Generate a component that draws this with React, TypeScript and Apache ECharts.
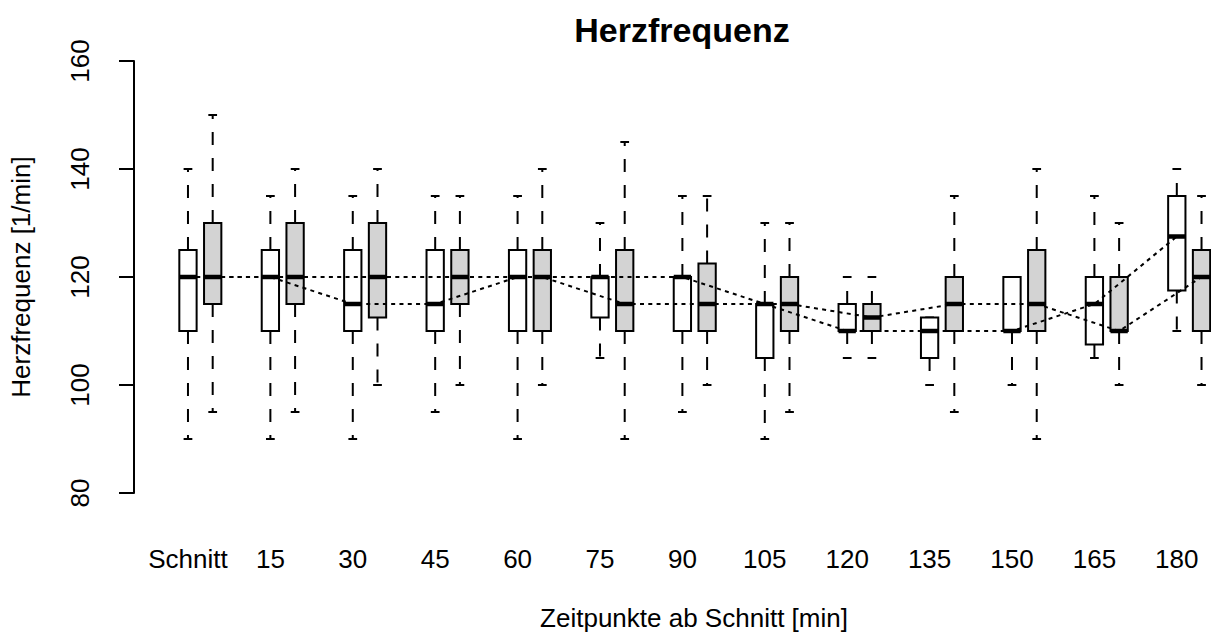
import React, { useEffect, useRef } from "react";
import * as echarts from "echarts";

// ---- data ----
const categories = ["Schnitt", "15", "30", "45", "60", "75", "90", "105", "120", "135", "150", "165", "180"];

// [min, q1, median, q3, max] per time point, first group (white boxes)
const whiteStats: number[][] = [
  [90, 110, 120, 125, 140],
  [90, 110, 120, 125, 135],
  [90, 110, 115, 125, 135],
  [95, 110, 115, 125, 135],
  [90, 110, 120, 125, 135],
  [105, 112.5, 120, 120, 130],
  [95, 110, 120, 120, 135],
  [90, 105, 115, 115, 130],
  [105, 110, 110, 115, 120],
  [100, 105, 110, 112.5, 112.5],
  [100, 110, 110, 120, 120],
  [105, 107.5, 115, 120, 135],
  [110, 117.5, 127.5, 135, 140],
];

// [min, q1, median, q3, max] per time point, second group (grey boxes)
const grayStats: number[][] = [
  [95, 115, 120, 130, 150],
  [95, 115, 120, 130, 140],
  [100, 112.5, 120, 130, 140],
  [100, 115, 120, 125, 135],
  [100, 110, 120, 125, 140],
  [90, 110, 115, 125, 145],
  [100, 110, 115, 122.5, 135],
  [95, 110, 115, 120, 130],
  [105, 110, 112.5, 115, 120],
  [95, 110, 115, 120, 135],
  [90, 110, 115, 125, 140],
  [100, 110, 110, 120, 130],
  [100, 110, 120, 125, 135],
];

const yMin = 80;
const yMax = 160;
const yStep = 20;

// ---- layout constants ----
const GRAY_OFFSET = 0.3;
const BOX_HALF = 0.105;
const CAP_HALF = 0.053;
const X_MIN = 0.345;
const X_MAX = 13.415;
const FONT = "'Liberation Sans', Arial, Helvetica, sans-serif";

function boxRenderer(fill: string) {
  return (_params: any, api: any) => {
    const x = api.value(0);
    const lo = api.value(1);
    const q1 = api.value(2);
    const med = api.value(3);
    const q3 = api.value(4);
    const hi = api.value(5);
    const p = (dx: number, v: number) => api.coord([x + dx, v]);
    const dashStyle = { stroke: "#000", lineWidth: 2, lineDash: [13, 13], fill: null };
    const solid = { stroke: "#000", lineWidth: 2, fill: null };
    const children: any[] = [];
    const seg = (a: number[], b: number[], style: any) =>
      children.push({ type: "line", shape: { x1: a[0], y1: a[1], x2: b[0], y2: b[1] }, style });
    if (hi > q3) seg(p(0, q3), p(0, hi), dashStyle);
    if (lo < q1) seg(p(0, q1), p(0, lo), dashStyle);
    seg(p(-CAP_HALF, hi), p(CAP_HALF, hi), solid);
    seg(p(-CAP_HALF, lo), p(CAP_HALF, lo), solid);
    const tl = p(-BOX_HALF, q3);
    const br = p(BOX_HALF, q1);
    children.push({
      type: "rect",
      shape: { x: tl[0], y: tl[1], width: br[0] - tl[0], height: br[1] - tl[1] },
      style: { fill, stroke: "#000", lineWidth: 2 },
    });
    seg(p(-BOX_HALF, med), p(BOX_HALF, med), { stroke: "#000", lineWidth: 4.5, fill: null });
    return { type: "group", children };
  };
}

export default function App() {
  const ref = useRef<HTMLDivElement>(null);

  useEffect(() => {
    if (!ref.current) return;
    const chart = echarts.init(ref.current, undefined, { renderer: "svg" });
    const whiteData = whiteStats.map((s, i) => [i + 1, ...s]);
    const grayData = grayStats.map((s, i) => [i + 1 + GRAY_OFFSET, ...s]);
    const whiteMed = whiteStats.map((s, i) => [i + 1, s[2]]);
    const grayMed = grayStats.map((s, i) => [i + 1 + GRAY_OFFSET, s[2]]);

    chart.setOption({
      animation: false,
      backgroundColor: "#fff",
      title: [
        {
          text: "Herzfrequenz",
          left: 677,
          top: 8,
          textAlign: "center",
          textStyle: { fontFamily: FONT, fontSize: 34, fontWeight: "bold", color: "#000" },
        },
        {
          text: "Zeitpunkte ab Schnitt [min]",
          left: 689,
          top: 600,
          textAlign: "center",
          textStyle: { fontFamily: FONT, fontSize: 26, fontWeight: "normal", color: "#000" },
        },
      ],
      grid: { left: 134, right: 0, top: 61, bottom: 140, containLabel: false },
      xAxis: {
        type: "value",
        min: X_MIN,
        max: X_MAX,
        axisLine: { show: false },
        axisTick: { show: false },
        splitLine: { show: false },
        axisLabel: {
          customValues: categories.map((_, i) => i + 1),
          formatter: (v: number) => categories[Math.round(v) - 1] ?? "",
          margin: 53,
          fontFamily: FONT,
          fontSize: 26,
          color: "#000",
        },
      },
      yAxis: {
        type: "value",
        min: yMin,
        max: yMax,
        interval: yStep,
        name: "Herzfrequenz [1/min]",
        nameLocation: "middle",
        nameGap: 100,
        nameTextStyle: { fontFamily: FONT, fontSize: 26, color: "#000" },
        axisLine: { show: true, lineStyle: { color: "#000", width: 2 } },
        axisTick: { show: true, length: 15, lineStyle: { color: "#000", width: 2 } },
        splitLine: { show: false },
        axisLabel: { rotate: 90, margin: 41, fontFamily: FONT, fontSize: 26, color: "#000" },
      },
      series: [
        {
          type: "custom",
          name: "white",
          data: whiteData,
          encode: { x: 0, y: [1, 2, 3, 4, 5] },
          renderItem: boxRenderer("#ffffff"),
          z: 2,
          silent: true,
        },
        {
          type: "custom",
          name: "gray",
          data: grayData,
          encode: { x: 0, y: [1, 2, 3, 4, 5] },
          renderItem: boxRenderer("#d3d3d3"),
          z: 2,
          silent: true,
        },
        {
          type: "line",
          data: whiteMed,
          symbol: "none",
          lineStyle: { color: "#000", width: 2, type: [4, 4.3] },
          z: 4,
          silent: true,
        },
        {
          type: "line",
          data: grayMed,
          symbol: "none",
          lineStyle: { color: "#000", width: 2, type: [4, 4.3] },
          z: 4,
          silent: true,
        },
      ],
    });
    return () => chart.dispose();
  }, []);

  return (
    <div
      ref={ref}
      style={{ position: "absolute", left: 0, top: 0, width: 1211, height: 633, background: "#fff" }}
    />
  );
}
